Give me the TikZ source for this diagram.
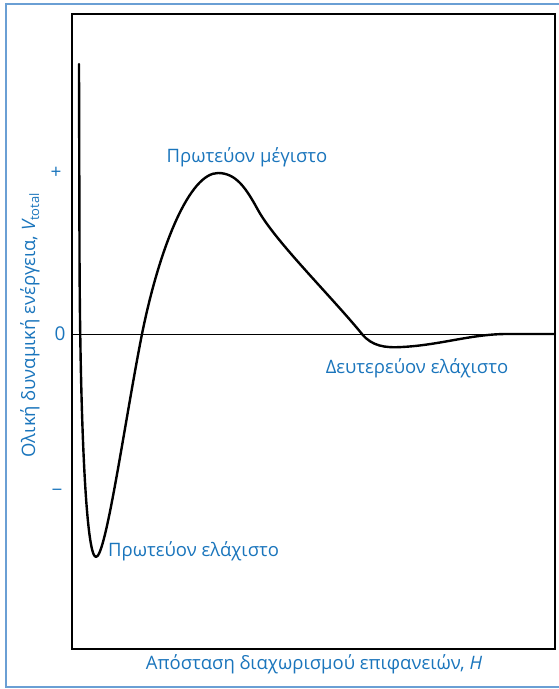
\documentclass[tikz,border=0pt]{standalone}
\usepackage{fontspec}
\setmainfont{Open Sans}
\usetikzlibrary{positioning}

\definecolor{labelblue}{HTML}{1A75BC}
\definecolor{frameblue}{HTML}{6A9FD4}

\begin{document}
\begin{tikzpicture}[x=1pt, y=-1pt,
		  % Define the style of the blue labels
		  curvelabel/.style={font=\fontsize{18.5}{22}\selectfont, text=labelblue, inner sep=0pt},
		  % Define the style of the axis sign marks
		  signlabel/.style={font=\fontsize{19}{22}\selectfont, text=labelblue, inner sep=0pt},
		  % Define the style of the energy curve
		  energy/.style={line width=2.4pt, line join=round, line cap=round},
		  % Define the style of the axes box
		  axisbox/.style={draw, line width=1.4pt}
		  ]
		  \useasboundingbox (0,0) rectangle (559,689);

		  % Outer frame
		  \draw[frameblue, line width=1.5pt] (6,4) rectangle (562,687);

		  % Axes box and zero line
		  \draw[axisbox] (72,14) rectangle (555,649);
		  \coordinate (zeroL) at (72,334);
		  \coordinate (zeroR) at (555,334);
		  \draw[line width=0.9pt] (zeroL) -- (zeroR);

		  % Sign marks on the vertical axis
		  \node[signlabel] (plus) at (56,173) {+};
		  \node[signlabel] (zero) at (60,334) {0};
		  \node[signlabel] (minus) at (57,493) {−};

		  % Axis titles
		  \node[curvelabel, rotate=90] (ytitle) at (30,325) {Ολική δυναμική ενέργεια, {\itshape V}\textsubscript{total}};
		  \node[curvelabel] (xtitle) at (314,664) {Απόσταση διαχωρισμού επιφανειών, {\itshape H}};

		  % Total energy curve
		  \draw[energy] (79,64) -- (79.5,250)
		    .. controls (80,420) and (86,557) .. (96,557)
		    .. controls (106,557) and (125,420) .. (142,334)
		    .. controls (160,245) and (190,173) .. (218,173)
		    .. controls (236,173) and (246,188) .. (258,210)
		    .. controls (275,241) and (330,295) .. (362,334)
		    .. controls (372,346.2) and (385,348) .. (402,347)
		    .. controls (440,345) and (470,334.5) .. (505,334)
		    -- (555,334);

		  % Curve labels
		  \node[curvelabel, anchor=west] (primmin) at (108,551) {Πρωτεύον ελάχιστο};
		  \node[curvelabel] (primmax) at (247,157) {Πρωτεύον μέγιστο};
		  \node[curvelabel] (secmin) at (417,368) {Δευτερεύον ελάχιστο};
\end{tikzpicture}
\end{document}
